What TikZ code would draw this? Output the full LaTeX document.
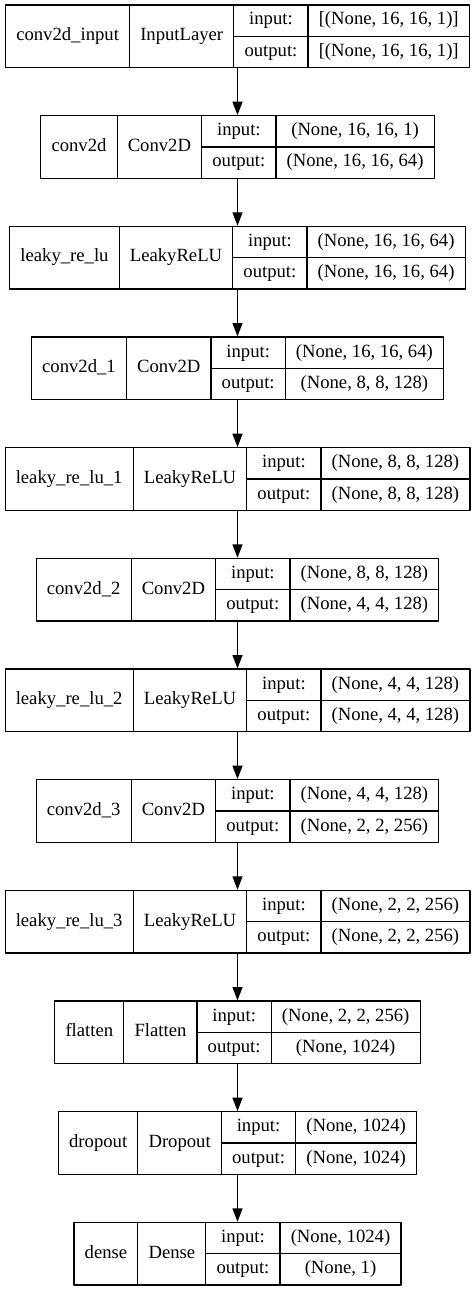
\documentclass[tikz,border=0pt]{standalone}
\usepackage{fontspec}
\setmainfont{Liberation Serif}
\usetikzlibrary{arrows.meta}

\newcommand{\lfont}{\fontsize{14}{16.8}\selectfont}
\newlength\wA \newlength\wB \newlength\wC \newlength\wD \newlength\wE
% one layer box: name, row, label, class, input shape, output shape
\newcommand{\layer}[6]{%
	\pgfinterruptpicture
	\settowidth{\wA}{\lfont #3}\addtolength{\wA}{16pt}\global\wA=\wA
	\settowidth{\wB}{\lfont #4}\addtolength{\wB}{16pt}\global\wB=\wB
	\settowidth{\wC}{\lfont output:}\addtolength{\wC}{16pt}\global\wC=\wC
	\settowidth{\wD}{\lfont #5}\settowidth{\wE}{\lfont #6}%
	\ifdim\wE>\wD \setlength{\wD}{\wE}\fi\addtolength{\wD}{16pt}\global\wD=\wD
	\endpgfinterruptpicture
	\pgfmathsetmacro{\xa}{-(\wA+\wB+\wC+\wD)/2}%
	\pgfmathsetmacro{\xb}{\xa+\wA}%
	\pgfmathsetmacro{\xc}{\xb+\wB}%
	\pgfmathsetmacro{\xd}{\xc+\wC}%
	\pgfmathsetmacro{\xe}{\xd+\wD}%
	\pgfmathsetmacro{\wt}{\xe-\xa}%
	\pgfmathsetmacro{\ma}{(\xa+\xb)/2}%
	\pgfmathsetmacro{\mb}{(\xb+\xc)/2}%
	\pgfmathsetmacro{\mc}{(\xc+\xd)/2}%
	\pgfmathsetmacro{\md}{(\xd+\xe)/2}%
	\begin{scope}[yshift=-#2*83pt]
		\node[box, minimum width=\wt pt] (#1) at (0,-23.5pt) {};
		\draw (\xb pt,0) -- (\xb pt,-47pt) (\xc pt,0) -- (\xc pt,-47pt)
		(\xd pt,0) -- (\xd pt,-47pt) (\xc pt,-23.5pt) -- (\xe pt,-23.5pt);
		\node[txt] (#1-name) at (\ma pt,-23.5pt) {#3};
		\node[txt] (#1-class) at (\mb pt,-23.5pt) {#4};
		\node[txt] (#1-in) at (\mc pt,-11.75pt) {input:};
		\node[txt] (#1-out) at (\mc pt,-35.25pt) {output:};
		\node[txt] (#1-inval) at (\md pt,-11.75pt) {#5};
		\node[txt] (#1-outval) at (\md pt,-35.25pt) {#6};
	\end{scope}%
}

\begin{document}
\begin{tikzpicture}[font=\lfont, line width=0.9pt, line join=round, >={Triangle[length=10pt,width=7.5pt]},
	box/.style={draw, minimum height=47pt, inner sep=0pt},
	txt/.style={inner sep=0pt, text height=9.5pt, text depth=3pt}]
	\useasboundingbox (-178.125pt,3.75pt) rectangle (178.125pt,-964.5pt);
	\layer{convIn}{0}{conv2d\_input}{InputLayer}{[(None, 16, 16, 1)]}{[(None, 16, 16, 1)]}
	\layer{conv0}{1}{conv2d}{Conv2D}{(None, 16, 16, 1)}{(None, 16, 16, 64)}
	\layer{leaky0}{2}{leaky\_re\_lu}{LeakyReLU}{(None, 16, 16, 64)}{(None, 16, 16, 64)}
	\layer{conv1}{3}{conv2d\_1}{Conv2D}{(None, 16, 16, 64)}{(None, 8, 8, 128)}
	\layer{leaky1}{4}{leaky\_re\_lu\_1}{LeakyReLU}{(None, 8, 8, 128)}{(None, 8, 8, 128)}
	\layer{conv2}{5}{conv2d\_2}{Conv2D}{(None, 8, 8, 128)}{(None, 4, 4, 128)}
	\layer{leaky2}{6}{leaky\_re\_lu\_2}{LeakyReLU}{(None, 4, 4, 128)}{(None, 4, 4, 128)}
	\layer{conv3}{7}{conv2d\_3}{Conv2D}{(None, 4, 4, 128)}{(None, 2, 2, 256)}
	\layer{leaky3}{8}{leaky\_re\_lu\_3}{LeakyReLU}{(None, 2, 2, 256)}{(None, 2, 2, 256)}
	\layer{flat}{9}{flatten}{Flatten}{(None, 2, 2, 256)}{(None, 1024)}
	\layer{drop}{10}{dropout}{Dropout}{(None, 1024)}{(None, 1024)}
	\layer{dense}{11}{dense}{Dense}{(None, 1024)}{(None, 1)}
	\foreach \a/\b in {convIn/conv0, conv0/leaky0, leaky0/conv1, conv1/leaky1, leaky1/conv2,
		conv2/leaky2, leaky2/conv3, conv3/leaky3, leaky3/flat, flat/drop, drop/dense}
	\draw[->] (\a) -- (\b);
\end{tikzpicture}
\end{document}
